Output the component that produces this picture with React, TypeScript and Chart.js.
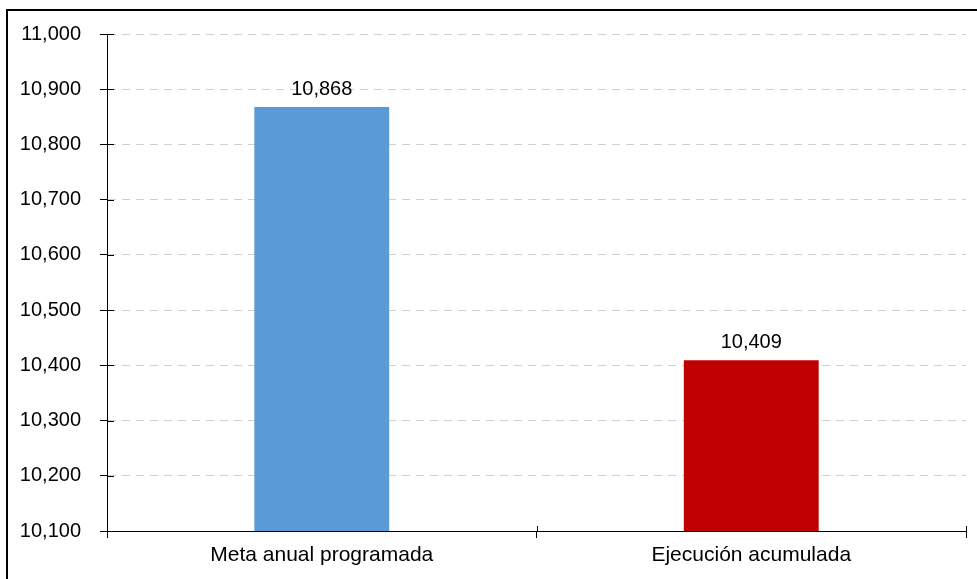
import React, { useEffect, useRef } from "react";
import { Chart, registerables } from "chart.js";

Chart.register(...registerables);

const categories = ["Meta anual programada", "Ejecución acumulada"];
const values = [10868, 10409];
const barColors = ["#5B9BD5", "#C00000"];
const yMin = 10100;
const yMax = 11000;
const yStep = 100;

const FONT = "'Liberation Sans', Arial, sans-serif";
const fmt = (v: number) => v.toLocaleString("en-US");

const decorPlugin = {
  id: "decor",
  afterDraw(chart: any) {
    const ctx = chart.ctx;
    const y = chart.scales.y;
    const x = chart.scales.x;
    const area = chart.chartArea;
    ctx.save();
    ctx.strokeStyle = "#000";
    ctx.lineWidth = 1;
    y.ticks.forEach((t: any) => {
      const py = Math.round(y.getPixelForValue(t.value)) + 0.5;
      ctx.beginPath();
      ctx.moveTo(area.left, py);
      ctx.lineTo(area.left + 7, py);
      ctx.stroke();
    });
    for (let i = 0; i <= categories.length; i++) {
      const px = Math.round(x.getPixelForValue(i - 0.5)) + 0.5;
      ctx.beginPath();
      ctx.moveTo(px, area.bottom);
      ctx.lineTo(px, area.bottom - 5);
      ctx.stroke();
    }
    ctx.fillStyle = "#000";
    ctx.font = `20px ${FONT}`;
    ctx.textAlign = "center";
    ctx.textBaseline = "alphabetic";
    const meta = chart.getDatasetMeta(0);
    meta.data.forEach((bar: any, i: number) => {
      ctx.fillText(fmt(values[i]), bar.x, bar.y - 12);
    });
    ctx.fillStyle = "#000";
    ctx.fillRect(6, 9, 2, chart.height);
    ctx.fillRect(6, 9, chart.width, 2);
    ctx.restore();
  },
};

export default function App() {
  const ref = useRef<HTMLCanvasElement | null>(null);
  useEffect(() => {
    if (!ref.current) return;
    const chart = new Chart(ref.current, {
      type: "bar",
      data: {
        labels: categories,
        datasets: [
          {
            data: values,
            backgroundColor: barColors,
            barPercentage: 0.314,
            categoryPercentage: 1,
          },
        ],
      },
      options: {
        animation: false,
        responsive: false,
        layout: { padding: { left: 0, top: 34, right: 11, bottom: 0 } },
        plugins: { legend: { display: false }, tooltip: { enabled: false } },
        scales: {
          x: {
            grid: {
              drawOnChartArea: false,
              drawTicks: true,
              tickLength: 7,
              tickColor: "#000",
            },
            border: { display: true, color: "#000", width: 1 },
            ticks: {
              color: "#000",
              padding: 5,
              font: { family: FONT, size: 21 },
            },
            afterFit(scale: any) {
              scale.height = 48;
              scale.paddingLeft = 0;
              scale.paddingRight = 0;
            },
          },
          y: {
            min: yMin,
            max: yMax,
            grid: {
              color: (c: any) => (c.tick && c.tick.value === yMin ? "rgba(0,0,0,0)" : "#cfcfcf"),
              lineWidth: 1,
              drawTicks: true,
              tickLength: 7,
              tickColor: "#000",
              tickBorderDash: [],
            },
            border: { display: true, color: "#000", width: 1, dash: [8, 6] },
            ticks: {
              stepSize: yStep,
              color: "#000",
              padding: 19,
              font: { family: FONT, size: 20 },
              callback: (v: any) => fmt(Number(v)),
            },
            afterFit(scale: any) {
              scale.width = 107;
              scale.paddingTop = 0;
              scale.paddingBottom = 0;
            },
          },
        },
      },
      plugins: [decorPlugin],
    });
    return () => chart.destroy();
  }, []);
  return (
    <div style={{ position: "absolute", left: 0, top: 0, width: 977, height: 579, background: "#fff" }}>
      <canvas ref={ref} width={977} height={579} />
    </div>
  );
}
